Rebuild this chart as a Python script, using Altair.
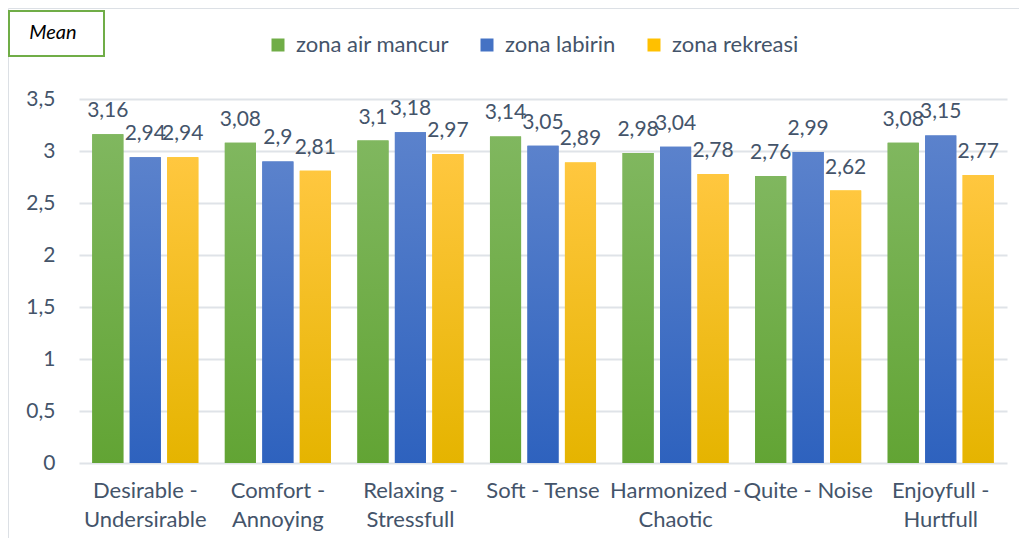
import altair as alt
import pandas as pd

categories = [
    "Desirable - Undersirable",
    "Comfort - Annoying",
    "Relaxing - Stressfull",
    "Soft - Tense",
    "Harmonized - Chaotic",
    "Quite - Noise",
    "Enjoyfull - Hurtfull",
]
series = ["zona air mancur", "zona labirin", "zona rekreasi"]
air_mancur = [3.16, 3.08, 3.10, 3.14, 2.98, 2.76, 3.08]
labirin = [2.94, 2.90, 3.18, 3.05, 3.04, 2.99, 3.15]
rekreasi = [2.94, 2.81, 2.97, 2.89, 2.78, 2.62, 2.77]
y_ticks = [0, 0.5, 1, 1.5, 2, 2.5, 3, 3.5]

base_colors = ["#70AD47", "#4472C4", "#FFC000"]
grad_top = ["#80B75F", "#5B82CC", "#FFC73F"]
grad_bottom = ["#62A434", "#2E62BE", "#E5B400"]

TEXT = "#44546A"
FONT = "Lato"

rows = []
for i, c in enumerate(categories):
    for s, vals in zip(series, [air_mancur, labirin, rekreasi]):
        v = vals[i]
        rows.append({"kategori": c, "zona": s, "nilai": v,
                     "label": f"{v:g}".replace(".", ",")})
df = pd.DataFrame(rows)

x_enc = alt.X(
    "kategori:N",
    scale=alt.Scale(domain=categories, paddingInner=0.2, paddingOuter=0.1),
    axis=alt.Axis(
        title=None, labelAngle=0, ticks=False, domain=False,
        labelFontSize=22, labelFont=FONT, labelColor=TEXT,
        labelPadding=17, labelLineHeight=29, labelLimit=300,
        labelExpr="length(datum.label) > 13 ? split(replace(datum.label, ' - ', ' -|'), '|') : datum.label",
    ),
)
xoff_enc = alt.XOffset("zona:N", scale=alt.Scale(domain=series, paddingInner=0.17, paddingOuter=0))
y_enc = alt.Y(
    "nilai:Q",
    scale=alt.Scale(domain=[0, 3.5], nice=False),
    axis=alt.Axis(
        title=None, values=y_ticks, ticks=False, domain=False,
        labelFontSize=21, labelFont=FONT, labelColor=TEXT, labelPadding=24,
        labelExpr="replace(toString(datum.value), '.', ',')",
        grid=True, gridColor="#DFE3E8", gridWidth=2,
    ),
)

base = alt.Chart(df)

legend_layer = base.mark_bar().encode(
    x=x_enc, xOffset=xoff_enc, y=y_enc,
    color=alt.Color(
        "zona:N",
        scale=alt.Scale(domain=series, range=base_colors),
        legend=alt.Legend(
            title=None, orient="none", legendX=188, legendY=-65,
            direction="horizontal", symbolType="square", symbolSize=169,
            symbolStrokeWidth=0, symbolOpacity=1, labelFontSize=22,
            labelFont=FONT, labelColor=TEXT, columnPadding=27,
            labelOffset=7, padding=0,
        ),
    ),
)

grad_layers = []
for s, top, bot in zip(series, grad_top, grad_bottom):
    grad_layers.append(
        base.transform_filter(alt.datum.zona == s)
        .mark_bar(
            color=alt.Gradient(
                gradient="linear",
                stops=[alt.GradientStop(color=top, offset=0),
                       alt.GradientStop(color=bot, offset=1)],
                x1=0, x2=0, y1=0, y2=1,
            )
        )
        .encode(x=x_enc, xOffset=xoff_enc, y=y_enc)
    )

labels = base.mark_text(
    baseline="alphabetic", dy=-17, fontSize=21, font=FONT, color=TEXT
).encode(x=x_enc, xOffset=xoff_enc, y=y_enc, text="label:N")

deco = alt.Chart(pd.DataFrame({"t": ["Mean"]}))
border_top = deco.mark_rule(color="#DCE0E5", strokeWidth=1).encode(
    x=alt.value(-70.5), x2=alt.value(940), y=alt.value(-90.5), y2=alt.value(-90.5)
)
border_left = deco.mark_rule(color="#DCE0E5", strokeWidth=1).encode(
    x=alt.value(-70.5), x2=alt.value(-70.5), y=alt.value(-90.5), y2=alt.value(450)
)
mean_box = deco.mark_rect(fillOpacity=0, stroke="#70AD47", strokeWidth=2).encode(
    x=alt.value(-70), x2=alt.value(25), y=alt.value(-88), y2=alt.value(-43)
)
mean_text = deco.mark_text(
    fontSize=20, font=FONT, fontStyle="italic", color="#000000",
    align="center", baseline="middle",
).encode(x=alt.value(-26), y=alt.value(-66), text="t:N")

chart = alt.layer(
    legend_layer, *grad_layers, labels, border_top, border_left, mean_box, mean_text
).properties(
    width=928, height=364,
    autosize=alt.AutoSizeParams(type="none"),
    padding={"left": 71, "top": 91, "right": 12, "bottom": 75},
).configure_view(stroke=None)

chart.save("out.html", embed_options={"renderer": "svg", "actions": False})
